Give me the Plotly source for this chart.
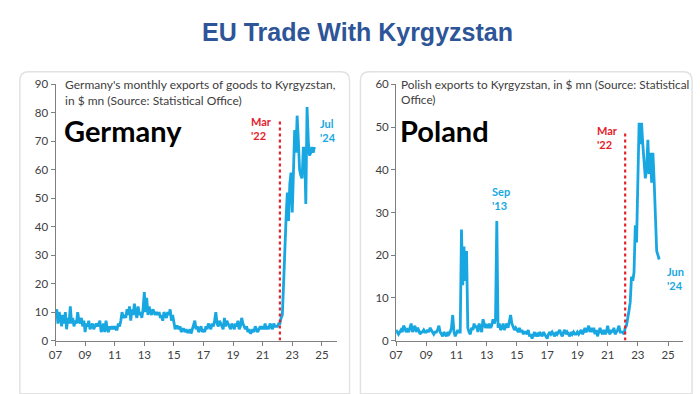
import pandas as pd
import plotly.graph_objects as go

# ---------------- data ----------------
germany_start = "2007-01-01"
germany_values = [
    9, 11, 6, 10, 8, 5, 9, 6, 10, 4, 8, 6,          # 2007
    12, 6, 8, 5, 7, 6, 10, 7, 6, 8, 5, 7,           # 2008
    3, 6, 5, 7, 4, 5, 6, 4, 5, 6, 5, 6,             # 2009
    7, 3, 4, 6, 3, 7, 4, 3, 5, 4, 5, 4,             # 2010
    5, 4, 4, 6, 5, 7, 10, 8, 9, 8, 11, 9,           # 2011
    12, 7, 11, 9, 13, 10, 8, 12, 9, 10, 8, 11,      # 2012
    17, 10, 15, 9, 12, 10, 9, 11, 10, 9, 10, 9,     # 2013
    10, 8, 9, 7, 10, 9, 8, 10, 9, 11, 7, 9,         # 2014
    6, 4, 5, 5, 4, 5, 3, 4, 4, 3, 4, 3,             # 2015
    3, 4, 2.5, 4, 6, 7, 4, 5, 3, 4, 5, 3,           # 2016
    4, 3, 5, 4, 6, 5, 4, 6, 5, 7, 10, 6,            # 2017
    5, 7, 6, 5, 4, 8, 5, 7, 6, 5, 4, 6,             # 2018
    5, 4, 6, 5, 7, 4, 5, 8, 6, 5, 4, 5,             # 2019
    3, 4, 2.5, 3, 4, 3, 5, 4, 3, 4, 5, 4,           # 2020
    5, 4, 6, 4, 5, 4, 6, 5, 4, 6, 5, 5,             # 2021
    5, 6, 6, 8, 9, 20, 35, 43, 52, 42, 55, 59,      # 2022
    45, 60, 74, 66, 79, 70, 60, 58, 57, 68, 67, 48, # 2023
    82, 70, 65, 66, 68, 66, 68,                     # 2024 (to Jul)
]

poland_start = "2007-01-01"
poland_values = [
    2.5, 2, 1.5, 2, 2.5, 2, 3.5, 3, 2, 2.5, 2, 3,       # 2007
    4, 2, 3, 3.5, 2, 3, 2.5, 1.5, 2, 2, 2.5, 2,         # 2008
    2, 2.5, 2, 3, 2.5, 2, 1.5, 2, 2, 2.5, 3.5, 2,       # 2009
    1.5, 1, 2, 1.5, 1, 2, 1.5, 2, 3, 6, 2, 1,           # 2010
    2, 2.5, 2, 2, 26, 13, 22, 14, 21, 3, 2, 1.5,        # 2011
    3, 2.5, 4, 3, 3.5, 2, 4, 3, 2, 5, 4, 3,             # 2012
    3.5, 3, 4, 3, 3.5, 5, 4, 5, 28, 3, 4, 2.5,          # 2013
    3, 4, 2.5, 3.5, 4, 3, 5, 6, 4, 3, 2.5, 3,           # 2014
    2.5, 2, 3, 2, 2.5, 1.5, 2, 2, 1.5, 2.5, 1, 1.5,     # 2015
    0.5, 1.5, 2, 1, 1.5, 1, 2, 1.5, 1, 2, 1.5, 1,       # 2016
    0.5, 1.5, 2, 1.5, 2, 1.5, 1, 2, 1.5, 2, 2.5, 1.5,   # 2017
    1, 2, 2.5, 1.5, 2, 1.5, 1, 2, 1.5, 2, 1.5, 1.5,     # 2018
    2, 1.5, 2, 2.5, 1.5, 2, 3, 2, 2.5, 3.5, 2, 3,       # 2019
    2, 3, 1.5, 2.5, 1, 2, 3, 2, 1.5, 2.5, 1.5, 2,       # 2020
    3.5, 2, 1.5, 2.5, 2, 3, 1.5, 2, 2.5, 3.5, 2, 2,     # 2021
    2, 1.5, 3, 3.5, 5, 7, 9, 15, 14, 16, 27, 23,        # 2022
    37, 51, 46, 51, 46, 42, 38, 40, 47, 39, 44, 37,     # 2023
    44, 37, 27, 21, 20, 19,                             # 2024 (to Jun)
]

marker_date = "2022-03-01"
germany_marker_top = 77
poland_marker_top = 49

x_tick0 = "2007-01-01"
x_range = ["2007-01-01", "2026-01-01"]
germany_yticks = [0, 10, 20, 30, 40, 50, 60, 70, 80, 90]
poland_yticks = [0, 10, 20, 30, 40, 50, 60]

title_text = "EU Trade With Kyrgyzstan"
germany_sub = "Germany's monthly exports of goods to Kyrgyzstan,<br>in $ mn (Source: Statistical Office)"
poland_sub = "Polish exports to Kyrgyzstan, in $ mn (Source: Statistical<br>Office)"

germany_dates = pd.date_range(germany_start, periods=len(germany_values), freq="MS")
poland_dates = pd.date_range(poland_start, periods=len(poland_values), freq="MS")

# ---------------- layout helpers ----------------
W, H = 700, 394
def px(x):
    return x / W
def py(y):
    return 1 - y / H

LINE = "#19A7E2"
RED = "#E3232C"
TICKC = "#404040"
FONT = "Lato, 'Open Sans', sans-serif"

fig = go.Figure()

fig.add_trace(go.Scatter(x=germany_dates, y=germany_values, mode="lines",
                         line=dict(color=LINE, width=2.8), xaxis="x", yaxis="y",
                         showlegend=False))
fig.add_trace(go.Scatter(x=[marker_date, marker_date], y=[0, germany_marker_top], mode="lines",
                         line=dict(color=RED, width=2.2, dash="dot"), xaxis="x", yaxis="y",
                         showlegend=False))
fig.add_trace(go.Scatter(x=poland_dates, y=poland_values, mode="lines",
                         line=dict(color=LINE, width=2.8), xaxis="x2", yaxis="y2",
                         showlegend=False))
fig.add_trace(go.Scatter(x=[marker_date, marker_date], y=[0, poland_marker_top], mode="lines",
                         line=dict(color=RED, width=2.2, dash="dot"), xaxis="x2", yaxis="y2",
                         showlegend=False))

xcommon = dict(type="date", range=x_range, tick0=x_tick0, dtick="M24", tickformat="%y",
               showgrid=False, zeroline=False, showline=True, linecolor="#7F7F7F", linewidth=1,
               ticks="outside", ticklen=4, tickcolor="#7F7F7F",
               tickfont=dict(family=FONT, size=11.5, color=TICKC))
ycommon = dict(showgrid=False, zeroline=False, showline=True, linecolor="#7F7F7F", linewidth=1,
               ticks="outside", ticklen=4, tickcolor="#7F7F7F",
               tickfont=dict(family=FONT, size=11.5, color=TICKC))

yd = [py(345), py(80)]
fig.update_layout(
    width=W, height=H, autosize=False,
    margin=dict(l=0, r=0, t=0, b=0, pad=0),
    paper_bgcolor="white", plot_bgcolor="rgba(0,0,0,0)",
    xaxis=dict(domain=[px(49), px(333)], anchor="y", **xcommon),
    yaxis=dict(domain=yd, anchor="x", range=[0, 90], tickvals=germany_yticks, **ycommon),
    xaxis2=dict(domain=[px(393), px(683)], anchor="y2", **xcommon),
    yaxis2=dict(domain=yd, anchor="x2", range=[0, 60], tickvals=poland_yticks, **ycommon),
)

def rounded_rect(x0, y0, x1, y1, r):
    rx, ry = r / W, r / H
    X0, X1 = px(x0), px(x1)
    Y0, Y1 = py(y0), py(y1)  # Y0 top, Y1 bottom
    return (f"M {X0+rx},{Y0} L {X1-rx},{Y0} Q {X1},{Y0} {X1},{Y0-ry} "
            f"L {X1},{Y1} L {X0},{Y1} L {X0},{Y0-ry} Q {X0},{Y0} {X0+rx},{Y0} Z")

shapes = []
for (a, b) in [(13, 346), (357, 692)]:
    shapes.append(dict(type="path", xref="paper", yref="paper",
                       path=rounded_rect(a, 67, b, 400, 9),
                       line=dict(color="#E2E2E2", width=1.5), fillcolor="rgba(0,0,0,0)",
                       layer="below"))
fig.update_layout(shapes=shapes)

ann = []
ann.append(dict(text=f"<b>{title_text}</b>", x=px(354), y=py(26), xref="paper", yref="paper",
                showarrow=False, xanchor="center", yanchor="middle",
                font=dict(family="'Liberation Sans', Arial, sans-serif", size=25, color="#2D5597")))
ann.append(dict(text=germany_sub, x=px(57), y=py(70), xref="paper", yref="paper",
                showarrow=False, xanchor="left", yanchor="top", align="left",
                font=dict(family=FONT, size=12, color=TICKC)))
ann.append(dict(text=poland_sub, x=px(396), y=py(70), xref="paper", yref="paper",
                showarrow=False, xanchor="left", yanchor="top", align="left",
                font=dict(family=FONT, size=11.8, color=TICKC)))
ann.append(dict(text="<b>Germany</b>", x=px(56), y=py(128), xref="paper", yref="paper",
                showarrow=False, xanchor="left", yanchor="middle",
                font=dict(family=FONT, size=29, color="black")))
ann.append(dict(text="<b>Poland</b>", x=px(395), y=py(128), xref="paper", yref="paper",
                showarrow=False, xanchor="left", yanchor="middle",
                font=dict(family=FONT, size=29, color="black")))
small = dict(family=FONT, size=11)
ann.append(dict(text="<b>Mar<br>'22</b>", x=px(270), y=py(126), xref="paper", yref="paper",
                showarrow=False, xanchor="right", yanchor="middle", align="left",
                font=dict(color=RED, **small)))
ann.append(dict(text="<b>Jul<br>'24</b>", x=px(314), y=py(128), xref="paper", yref="paper",
                showarrow=False, xanchor="left", yanchor="middle", align="left",
                font=dict(color=LINE, **small)))
ann.append(dict(text="<b>Mar<br>'22</b>", x=px(619), y=py(135), xref="paper", yref="paper",
                showarrow=False, xanchor="right", yanchor="middle", align="left",
                font=dict(color=RED, **small)))
ann.append(dict(text="<b>Sep<br>'13</b>", x=px(499), y=py(198), xref="paper", yref="paper",
                showarrow=False, xanchor="center", yanchor="middle", align="left",
                font=dict(color=LINE, **small)))
ann.append(dict(text="<b>Jun<br>'24</b>", x=px(665), y=py(281), xref="paper", yref="paper",
                showarrow=False, xanchor="left", yanchor="middle", align="left",
                font=dict(color=LINE, **small)))
fig.update_layout(annotations=ann)

fig.write_html("out.html", config={"displayModeBar": False, "staticPlot": True},
               post_script="document.body.style.margin='0';document.body.style.padding='0';"
                           "document.body.style.overflow='hidden';")
